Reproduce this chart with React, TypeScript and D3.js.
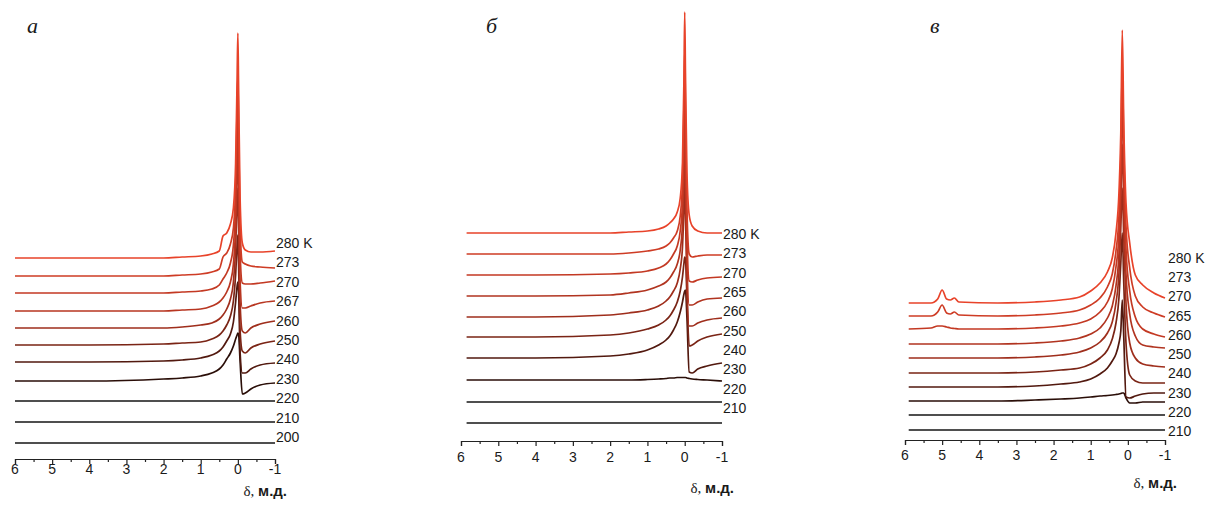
import React, { useEffect, useRef } from 'react';
import * as d3 from 'd3';

// ---- panel а ----
const tempsA = [280, 273, 270, 267, 260, 250, 240, 230, 220, 210, 200];
const offsetsA = [201, 183, 166, 148, 131, 114, 97, 78, 58, 37, 16];
const shiftsA = [6, 4, 2, 1.5, 1, 0.7, 0.5, 0.4, 0.3, 0.2, 0.12, 0.06, 0.02, 0, -0.02, -0.06, -0.12, -0.2, -0.35, -0.6, -1];
const spectraA = [
  [0, 0, 0, 1, 2, 4, 7, 22, 25, 34, 50, 95, 180, 225, 170, 60, 15, 8, 6, 6, 7],
  [0, 0, 0, 1, 2, 4, 7, 19, 23, 32, 48, 90, 170, 200, 150, 50, 14, 12, 10, 9, 8],
  [0, 0, 0, 1, 2, 4, 8, 14, 20, 30, 48, 88, 160, 180, 130, 40, 10, 9, 9, 10, 12],
  [0, 0, 0, 1, 2, 5, 9, 13, 19, 29, 47, 85, 145, 160, 110, 30, 3, 3, 5, 8, 10],
  [0, 0, 0, 1, 3, 5, 9, 13, 19, 29, 46, 80, 125, 140, 100, 25, -3, -5, 0, 4, 7],
  [0, 0, 1, 2, 3, 6, 10, 14, 20, 29, 44, 70, 100, 110, 80, 15, -6, -8, -3, 1, 4],
  [0, 0, 1, 2, 4, 7, 11, 15, 21, 28, 40, 60, 76, 80, 70, 10, -11, -11, -7, -3, -1],
  [0, 0, 2, 3, 5, 8, 12, 16, 22, 28, 35, 42, 46, 48, 47, 20, -13, -12, -8, -4, -2],
  [0, 0, 0, 0, 0, 0, 0, 0, 0, 0, 0, 0, 0, 0, 0, 0, 0, 0, 0, 0, 0],
  [0, 0, 0, 0, 0, 0, 0, 0, 0, 0, 0, 0, 0, 0, 0, 0, 0, 0, 0, 0, 0],
  [0, 0, 0, 0, 0, 0, 0, 0, 0, 0, 0, 0, 0, 0, 0, 0, 0, 0, 0, 0, 0],
];

// ---- panel б ----
const tempsB = [280, 273, 270, 265, 260, 250, 240, 230, 220, 210];
const offsetsB = [208, 187, 166, 145, 124, 104, 83, 61, 39, 18];
const shiftsB = [5.85, 4, 2, 1.5, 1, 0.7, 0.5, 0.4, 0.3, 0.2, 0.12, 0.06, 0.02, 0, -0.02, -0.06, -0.12, -0.2, -0.35, -0.6, -1];
const spectraB = [
  [0, 0, 0, 1, 2, 4, 7, 10, 14, 21, 35, 70, 155, 221, 160, 60, 18, 7, 2, 0, 0],
  [0, 0, 0, 1, 3, 5, 8, 11, 16, 23, 38, 72, 150, 205, 145, 45, 0, -3, -2, -1, -1],
  [0, 0, 1, 2, 4, 7, 11, 15, 21, 29, 44, 72, 135, 190, 135, 40, -6, -7, -5, -3, -2],
  [0, 0, 1, 3, 6, 10, 14, 18, 24, 32, 46, 72, 125, 170, 120, 35, -9, -9, -6, -3, -2],
  [0, 0, 2, 4, 7, 11, 16, 20, 26, 34, 48, 70, 110, 140, 105, 30, -9, -9, -6, -3, -1],
  [0, 0, 2, 4, 8, 12, 17, 21, 27, 35, 46, 60, 74, 80, 78, 40, -9, -8, -4, 0, 3],
  [0, 0, 2, 4, 8, 13, 18, 22, 28, 36, 46, 56, 64, 67, 68, 40, -14, -15, -11, -8, -5],
  [0, 0, 0, 0, 0.5, 1, 1.5, 2, 2, 2.5, 2.5, 2.5, 2.5, 2.5, 2.5, 2, 1.5, 1, 0.5, 0, -1],
  [0, 0, 0, 0, 0, 0, 0, 0, 0, 0, 0, 0, 0, 0, 0, 0, 0, 0, 0, 0, 0],
  [0, 0, 0, 0, 0, 0, 0, 0, 0, 0, 0, 0, 0, 0, 0, 0, 0, 0, 0, 0, 0],
];

// ---- panel в ----
const tempsC = [280, 273, 270, 265, 260, 250, 240, 230, 220, 210];
const offsetsC = [137, 124, 111, 96, 82, 67, 53, 39, 25, 10];
const shiftsC = [5.9, 5.3, 5.12, 5.0, 4.88, 4.78, 4.67, 4.55, 3.5, 2.5, 1.8, 1.3, 1, 0.75, 0.55, 0.42, 0.32, 0.24, 0.19, 0.15, 0.11, 0.05, -0.05, -0.2, -0.4, -0.7, -1];
const spectraC = [
  [0, 0, 4, 13, 4, 3, 5, 1, 0, 1, 3, 6, 12, 20, 31, 45, 70, 110, 170, 273, 180, 100, 60, 28, 18, 10, 5],
  [0, 0, 4, 11, 3, 2, 4, 1, 0, 1, 3, 6, 11, 18, 29, 42, 65, 100, 160, 250, 170, 90, 48, 20, 9, 3, -1],
  [0, 1, 3, 3, 2, 1, 0.5, 0, 0, 1, 3, 6, 10, 17, 27, 40, 62, 95, 150, 230, 155, 80, 38, 12, 0, -5, -8],
  [0, 0, 0, 0, 0, 0, 0, 0, 0, 1, 3, 6, 10, 16, 26, 38, 58, 90, 140, 200, 140, 70, 30, 8, -1, -3, -4],
  [0, 0, 0, 0, 0, 0, 0, 0, 0, 1, 3, 6, 10, 16, 25, 36, 55, 85, 130, 170, 120, 55, 15, 0, -6, -8, -9],
  [0, 0, 0, 0, 0, 0, 0, 0, 0, 1, 3, 5, 9, 15, 23, 34, 50, 75, 110, 140, 90, 30, -2, -8, -10, -10, -10],
  [0, 0, 0, 0, 0, 0, 0, 0, 0, 1, 3, 5, 8, 13, 19, 26, 33, 44, 56, 87, 50, -10, -11, -9, -7, -6, -6],
  [0, 0, 0, 0, 0, 0, 0, 0, 0, 1, 2, 3, 4, 5, 5.5, 6, 6.5, 7, 7.5, 8, 8, 3, -2, -2, -1, -1, -1],
  [0, 0, 0, 0, 0, 0, 0, 0, 0, 0, 0, 0, 0, 0, 0, 0, 0, 0, 0, 0, 0, 0, 0, 0, 0, 0, 0],
  [0, 0, 0, 0, 0, 0, 0, 0, 0, 0, 0, 0, 0, 0, 0, 0, 0, 0, 0, 0, 0, 0, 0, 0, 0, 0, 0],
];

const majorTicks = [6, 5, 4, 3, 2, 1, 0, -1];
const minorTicks = [5.5, 4.5, 3.5, 2.5, 1.5, 0.5, -0.5];

const panels = [
  { letter: 'а', temps: tempsA, offsets: offsetsA, shifts: shiftsA, spectra: spectraA,
    x6: 15, xm1: 275, axisY: 459, labelX: 276, labelTop: 243, labelBottom: 437,
    letterX: 27, tickTextY: 474, titleY: 496, letterY: 33 },
  { letter: 'б', temps: tempsB, offsets: offsetsB, shifts: shiftsB, spectra: spectraB,
    x6: 461, xm1: 722, axisY: 441, labelX: 723, labelTop: 234, labelBottom: 408,
    letterX: 486, tickTextY: 462, titleY: 493, letterY: 33 },
  { letter: 'в', temps: tempsC, offsets: offsetsC, shifts: shiftsC, spectra: spectraC,
    x6: 905, xm1: 1165, axisY: 440, labelX: 1168, labelTop: 258, labelBottom: 431,
    letterX: 930, tickTextY: 460, titleY: 488, letterY: 33 },
];

const color = d3.scaleLinear<string>()
  .domain([220, 230, 250, 280])
  .range(['#151515', '#2a0e08', '#7a2415', '#e8432a'])
  .clamp(true);

const App = () => {
  const svgRef = useRef<SVGSVGElement>(null);

  useEffect(() => {
    const svg = d3.select(svgRef.current);
    svg.selectAll('*').remove();

    svg.append('rect').attr('width', 1209).attr('height', 513).attr('fill', '#fff');

    panels.forEach(p => {
      const g = svg.append('g');

      const x = d3.scaleLinear().domain([6, -1]).range([p.x6, p.xm1]);
      const y = d3.scaleLinear().domain([0, 450]).range([p.axisY, p.axisY - 450]);

      const line = d3.line<[number, number]>()
        .x(d => x(d[0]))
        .y(d => y(d[1]))
        .curve(d3.curveMonotoneX);

      // draw coldest first so warm (red) traces sit on top
      const order = d3.range(p.temps.length).reverse();
      order.forEach(i => {
        const pts = p.shifts.map((s, j) => [s, p.offsets[i] + p.spectra[i][j]] as [number, number]);
        g.append('path')
          .attr('d', line(pts))
          .attr('fill', 'none')
          .attr('stroke', color(p.temps[i]))
          .attr('stroke-width', 1.7)
          .attr('stroke-linejoin', 'round');
      });

      // temperature labels
      const ly = d3.scalePoint<number>().domain(p.temps).range([p.labelTop, p.labelBottom]);
      g.selectAll('.tlabel')
        .data(p.temps)
        .enter()
        .append('text')
        .attr('x', p.labelX)
        .attr('y', d => ly(d)!)
        .attr('dy', '0.36em')
        .attr('font-family', 'Liberation Sans, Arial, sans-serif')
        .attr('font-size', '14px')
        .attr('fill', '#1a1a1a')
        .text((d, i) => (i === 0 ? `${d} K` : `${d}`));

      // axis
      const axis = g.append('g').attr('transform', `translate(0, ${p.axisY})`);
      axis.call(d3.axisBottom(x).tickValues(majorTicks).tickSize(5).tickFormat(() => '') as any);
      axis.select('.domain').attr('stroke', '#222').attr('stroke-width', 1.2);
      axis.selectAll('.tick line').attr('stroke', '#222').attr('stroke-width', 1.2);

      const minor = g.append('g').attr('transform', `translate(0, ${p.axisY})`);
      minor.call(d3.axisBottom(x).tickValues(minorTicks).tickSize(3).tickFormat(() => '') as any);
      minor.select('.domain').remove();
      minor.selectAll('.tick line').attr('stroke', '#222').attr('stroke-width', 1.2);

      g.selectAll('.ticktext')
        .data(majorTicks)
        .enter()
        .append('text')
        .attr('x', d => x(d))
        .attr('y', p.tickTextY)
        .attr('text-anchor', 'middle')
        .attr('font-family', 'Liberation Sans, Arial, sans-serif')
        .attr('font-size', '14px')
        .attr('fill', '#1a1a1a')
        .text(d => `${d}`);

      const title = g.append('text')
        .attr('x', p.xm1 + 12)
        .attr('y', p.titleY)
        .attr('text-anchor', 'end')
        .attr('font-size', '15px')
        .attr('fill', '#1a1a1a');
      title.append('tspan').attr('font-family', 'Liberation Serif, serif').text('δ, ');
      title.append('tspan').attr('font-family', 'Liberation Sans, Arial, sans-serif')
        .attr('font-weight', 'bold').text('м.д.');

      g.append('text')
        .attr('x', p.letterX)
        .attr('y', p.letterY)
        .attr('font-family', 'Liberation Serif, serif')
        .attr('font-style', 'italic')
        .attr('font-size', '22px')
        .attr('fill', '#1a1a1a')
        .text(p.letter);
    });
  }, []);

  return (
    <svg ref={svgRef} width={1209} height={513}
      style={{ position: 'absolute', left: 0, top: 0, display: 'block' }} />
  );
};

export default App;
